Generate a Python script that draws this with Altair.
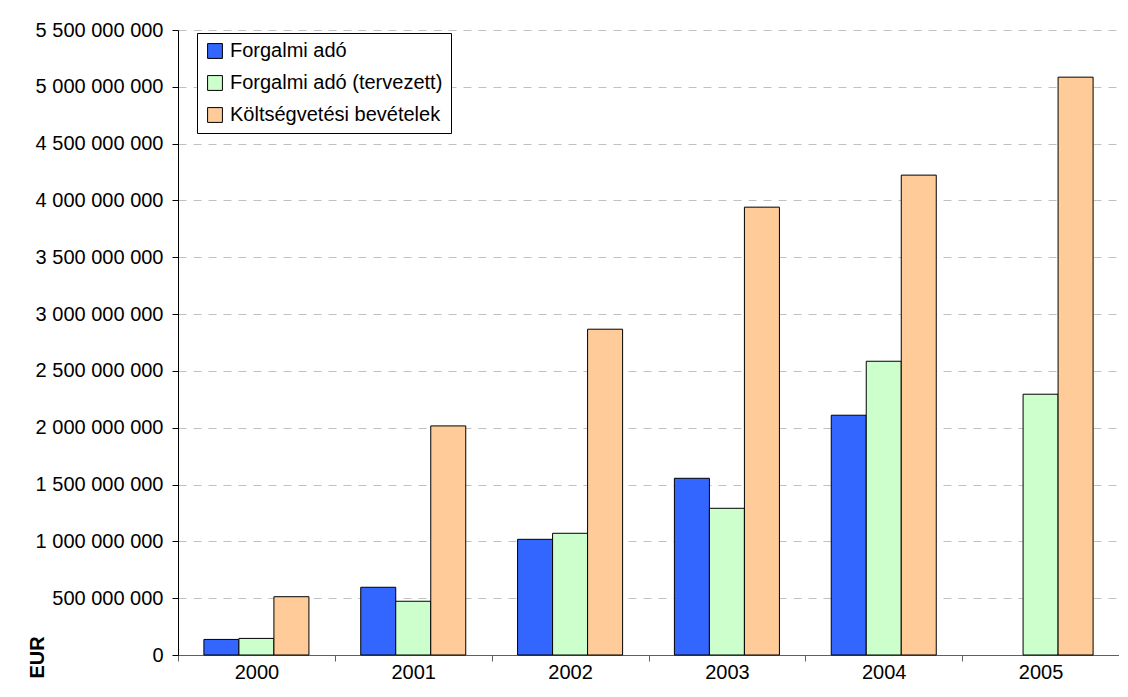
import altair as alt
import pandas as pd

years = ["2000", "2001", "2002", "2003", "2004", "2005"]
series = ["Forgalmi adó", "Forgalmi adó (tervezett)", "Költségvetési bevételek"]
forgalmi = [137e6, 596e6, 1018e6, 1555e6, 2110e6, None]
tervezett = [146e6, 473e6, 1071e6, 1291e6, 2585e6, 2295e6]
bevetelek = [513e6, 2016e6, 2867e6, 3941e6, 4223e6, 5085e6]
colors = ["#3366FF", "#CCFFCC", "#FFCC99"]
y_ticks = [i * 500_000_000 for i in range(12)]

rows = []
for s, vals in zip(series, [forgalmi, tervezett, bevetelek]):
    for yr, v in zip(years, vals):
        if v is not None:
            rows.append({"year": yr, "series": s, "value": v})
df = pd.DataFrame(rows)

FONT = "Liberation Sans"
FS = 20

bars = alt.Chart(df).mark_bar(stroke="black", strokeWidth=1).encode(
    x=alt.X(
        "year:N",
        sort=years,
        scale=alt.Scale(paddingInner=0, paddingOuter=0),
        axis=alt.Axis(
            title=None, labelAngle=0, tickBand="extent", ticks=True, tickSize=6,
            labelFontSize=FS, labelPadding=17, labelBaseline="alphabetic",
            domainColor="#606060", tickColor="#606060", labelColor="black",
            grid=False,
        ),
    ),
    xOffset=alt.XOffset(
        "series:N", sort=series,
        scale=alt.Scale(paddingInner=0, paddingOuter=0.74),
    ),
    y=alt.Y(
        "value:Q",
        scale=alt.Scale(domain=[0, 5.5e9], nice=False),
        axis=alt.Axis(
            values=y_ticks,
            labelExpr="replace(format(datum.value, ','), /,/g, ' ')",
            title="EUR", titleFontSize=FS, titleFontWeight="bold",
            titleAngle=270, titleX=-141, titleY=648, titleAlign="left",
            titleBaseline="middle", titleColor="black",
            labelFontSize=FS, labelColor="black", labelPadding=9,
            tickSize=6, tickColor="black", domainColor="black",
            grid=True, gridDash=[8, 7], gridColor="#c0c0c0", gridWidth=1,
        ),
    ),
    color=alt.Color(
        "series:N",
        sort=series,
        scale=alt.Scale(domain=series, range=colors),
        legend=alt.Legend(
            title=None, orient="none", legendX=19, legendY=3,
            fillColor="white", strokeColor="black", padding=8,
            labelFontSize=FS, labelColor="black", labelOffset=5, labelLimit=500,
            symbolType="square", symbolSize=220, symbolStrokeColor="black",
            symbolStrokeWidth=1, symbolOpacity=1, rowPadding=12,
        ),
    ),
)

chart = bars.properties(
    width=941,
    height=625,
    padding={"left": 170, "top": 22, "right": 0, "bottom": 26},
    autosize=alt.AutoSizeParams(type="none"),
).configure(font=FONT).configure_view(strokeWidth=0, strokeOpacity=0)

chart.save("out.html", embed_options={"renderer": "svg", "actions": False})
